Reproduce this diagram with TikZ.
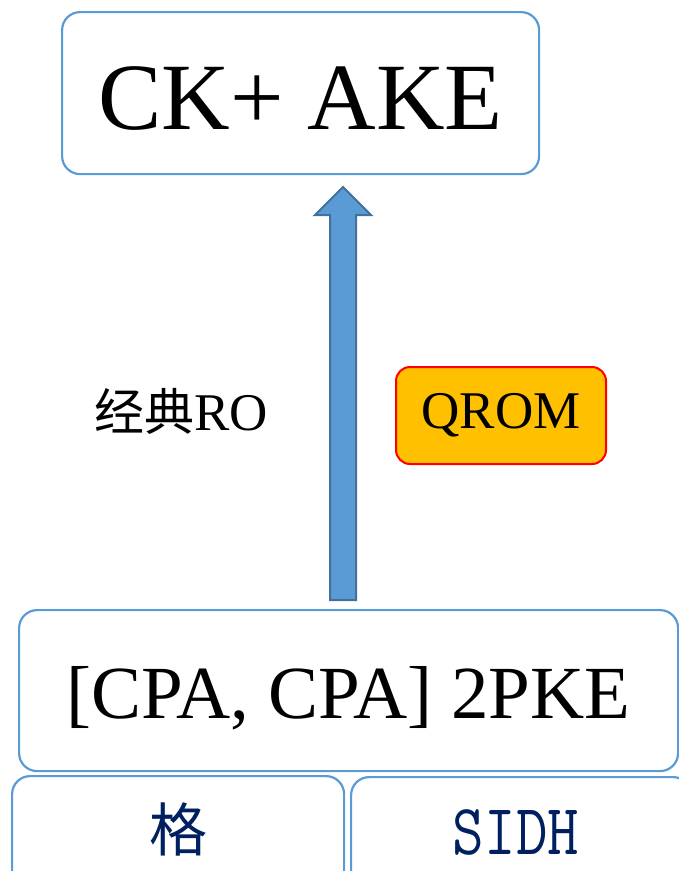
\documentclass[tikz,border=0pt]{standalone}
\usepackage{fontspec}
\setmainfont{Liberation Serif}
\newfontfamily\cjk{Noto Sans CJK SC}
\definecolor{boxline}{HTML}{5B9BD5}
\definecolor{arrowfill}{HTML}{5B9BD5}
\definecolor{arrowline}{HTML}{41719C}
\definecolor{qromfill}{HTML}{FFC000}
\definecolor{navy}{HTML}{002060}
\begin{document}
\begin{tikzpicture}[x=1pt,y=-1pt,
  roundbox/.style={draw=boxline, line width=2.2pt, rounded corners=18pt, fill=white,
    inner sep=0pt, anchor=north west},
  qrombox/.style={draw=red, line width=2pt, rounded corners=14pt, fill=qromfill,
    inner sep=0pt, anchor=north west, minimum width=210pt, minimum height=97pt}]
\useasboundingbox (0,0) rectangle (679,871);
\clip (0,0) rectangle (679,871);

% top result box
\node[roundbox, minimum width=477pt, minimum height=162pt] (ake) at (61,11) {};
\node at ([yshift=-5pt]ake.center) {\fontsize{95}{95}\selectfont CK+ AKE};

% middle box
\node[roundbox, minimum width=659pt, minimum height=161pt] (pke) at (18,609) {};
\node at ([yshift=-8pt]pke.center) {\fontsize{75}{75}\selectfont [CPA, CPA] 2PKE};

% bottom boxes, running past the lower edge
\node[roundbox, minimum width=332pt, minimum height=130pt] (lat) at (11,775) {};
\node[text=navy] at (178,829) {\cjk\fontsize{58}{58}\selectfont 格};
\node[roundbox, minimum width=340pt, minimum height=130pt] (sidh) at (350,776) {};
\node[text=navy] at (516,832) {\scalebox{0.85}[1]{\ttfamily\fontsize{72}{72}\selectfont SIDH}};

% block arrow from the 2PKE box up to the AKE box
\coordinate (abot) at (343,600);
\coordinate (atip) at (343,187);
\draw[fill=arrowfill, draw=arrowline, line width=2pt, line join=miter]
  ([xshift=-13pt]abot) -- ([xshift=-13pt,yshift=-28pt]atip) -- ([xshift=-28pt,yshift=-28pt]atip)
  -- (atip) -- ([xshift=28pt,yshift=-28pt]atip) -- ([xshift=13pt,yshift=-28pt]atip)
  -- ([xshift=13pt]abot) -- cycle;

% labels beside the arrow
\node (ro) at (181,411) {{\cjk\fontsize{50}{50}\selectfont 经典}\fontsize{53}{53}\selectfont RO};
\node[qrombox] (qrom) at (395,366) {};
\node at (qrom.center) {\fontsize{53}{53}\selectfont QROM};
\end{tikzpicture}
\end{document}
